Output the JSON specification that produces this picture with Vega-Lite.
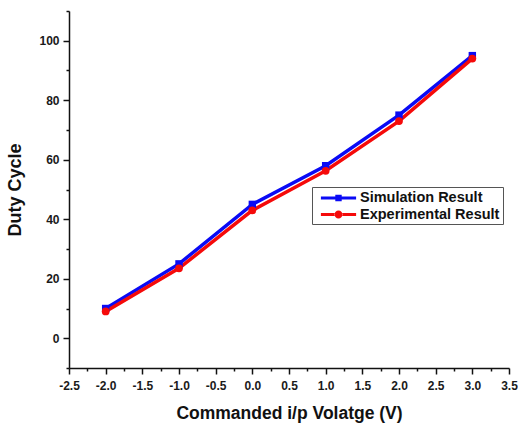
{
  "$schema": "https://vega.github.io/schema/vega-lite/v6.json",
  "width": 440,
  "height": 357,
  "autosize": {"type": "none"},
  "padding": {"left": 69, "top": 11, "right": 9, "bottom": 57},
  "background": "white",
  "config": {
    "view": {"stroke": null},
    "font": "Liberation Sans",
    "axis": {
      "grid": false,
      "domainColor": "#111",
      "domainWidth": 1.5,
      "tickColor": "#111",
      "tickWidth": 1.5,
      "labelFont": "Liberation Sans",
      "labelFontWeight": "bold",
      "labelFontSize": 12,
      "labelColor": "#1a1a1a",
      "titleFont": "Liberation Sans",
      "titleFontWeight": "bold",
      "titleColor": "#111"
    }
  },
  "data": {
    "values": [
      {"v": -2, "duty": 10, "series": "Simulation Result"},
      {"v": -1, "duty": 25, "series": "Simulation Result"},
      {"v": 0, "duty": 45, "series": "Simulation Result"},
      {"v": 1, "duty": 58, "series": "Simulation Result"},
      {"v": 2, "duty": 75, "series": "Simulation Result"},
      {"v": 3, "duty": 95, "series": "Simulation Result"},
      {"v": -2, "duty": 9, "series": "Experimental Result"},
      {"v": -1, "duty": 23.5, "series": "Experimental Result"},
      {"v": 0, "duty": 43, "series": "Experimental Result"},
      {"v": 1, "duty": 56.3, "series": "Experimental Result"},
      {"v": 2, "duty": 73, "series": "Experimental Result"},
      {"v": 3, "duty": 94, "series": "Experimental Result"}
    ]
  },
  "encoding": {
    "x": {
      "field": "v",
      "type": "quantitative",
      "scale": {"domain": [-2.5, 3.5], "nice": false, "zero": false},
      "axis": {
        "title": "Commanded i/p Volatge (V)",
        "titleFontSize": 17.5,
        "titlePadding": 13,
        "values": [-2.5, -2.25, -2, -1.75, -1.5, -1.25, -1, -0.75, -0.5, -0.25, 0, 0.25, 0.5, 0.75, 1, 1.25, 1.5, 1.75, 2, 2.25, 2.5, 2.75, 3, 3.25, 3.5],
        "labelExpr": "abs(datum.value*2 - round(datum.value*2)) < 0.001 ? replace(format(datum.value, '.1f'), '\u2212', '-') : ''",
        "tickSize": {"condition": {"test": "abs(datum.value*2 - round(datum.value*2)) < 0.001", "value": 6}, "value": 3},
        "labelPadding": 6,
        "labelFlush": false,
        "labelOverlap": false
      }
    },
    "y": {
      "field": "duty",
      "type": "quantitative",
      "scale": {"domain": [-10, 110], "nice": false, "zero": false},
      "axis": {
        "title": "Duty Cycle",
        "titleFontSize": 18,
        "titlePadding": 14,
        "values": [-10, 0, 10, 20, 30, 40, 50, 60, 70, 80, 90, 100, 110],
        "labelExpr": "datum.value >= 0 && datum.value <= 100 && datum.value % 20 == 0 ? format(datum.value, 'd') : ''",
        "tickSize": {"condition": {"test": "datum.value % 20 == 0", "value": 6}, "value": 3},
        "labelPadding": 4,
        "labelFlush": false,
        "labelOverlap": false
      }
    }
  },
  "layer": [
    {
      "mark": {"type": "line", "strokeWidth": 3.5},
      "encoding": {
        "color": {
          "field": "series",
          "type": "nominal",
          "scale": {"domain": ["Simulation Result", "Experimental Result"], "range": ["#0a0af5", "#f50a0a"]},
          "legend": {
            "title": null,
            "orient": "none",
            "legendX": 243,
            "legendY": 176,
            "strokeColor": "#555",
            "padding": 3,
            "rowPadding": 1.5,
            "symbolSize": 256,
            "symbolOffset": 15.5,
            "symbolStrokeWidth": 0,
            "labelFont": "Liberation Sans",
            "labelFontWeight": "bold",
            "labelFontSize": 14.5,
            "labelColor": "#111",
            "labelOffset": 13.5,
            "encode": {
              "symbols": {
                "update": {
                  "shape": {"signal": "datum.value === 'Simulation Result' ? 'M-2.2,-0.19L-0.4,-0.19L-0.4,-0.4L0.4,-0.4L0.4,-0.19L2.2,-0.19L2.2,0.19L0.4,0.19L0.4,0.4L-0.4,0.4L-0.4,0.19L-2.2,0.19Z' : 'M-2.2,-0.19L-0.45,-0.19L-0.45,0.19L-2.2,0.19Z M0.45,-0.19L2.2,-0.19L2.2,0.19L0.45,0.19Z M-0.5,0A0.5,0.5 0 1,0 0.5,0A0.5,0.5 0 1,0 -0.5,0Z'"},
                  "fill": {"signal": "datum.value === 'Simulation Result' ? '#0a0af5' : '#f50a0a'"},
                  "strokeWidth": {"value": 0}
                }
              }
            }
          }
        }
      }
    },
    {
      "transform": [{"filter": "datum.series === 'Simulation Result'"}],
      "mark": {"type": "point", "filled": true, "opacity": 1, "strokeWidth": 0, "shape": "square", "size": 55, "color": "#0a0af5"}
    },
    {
      "transform": [{"filter": "datum.series === 'Experimental Result'"}],
      "mark": {"type": "point", "filled": true, "opacity": 1, "strokeWidth": 0, "shape": "circle", "size": 60, "color": "#f50a0a"}
    }
  ]
}
